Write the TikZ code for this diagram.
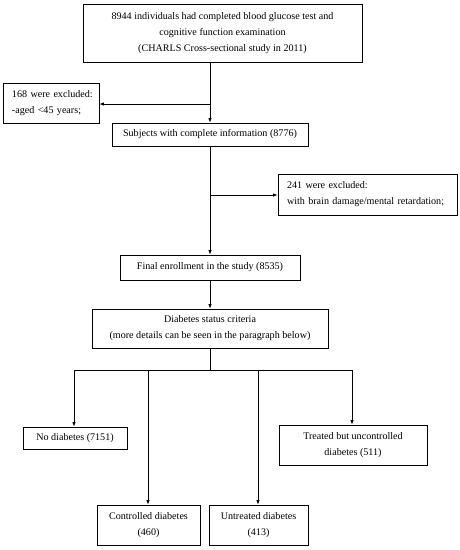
\documentclass[tikz,border=0pt]{standalone}
\usepackage{fontspec}
\setmainfont{Liberation Serif}
\usetikzlibrary{arrows.meta}
\tikzset{
  box/.style={draw, line width=0.8pt, inner sep=0pt, align=center,
    font=\fontsize{10.1}{16}\selectfont},
  lbox/.style={box, align=left},
  arr/.style={line width=0.8pt, -{Latex[length=4.5pt,width=3.5pt]}},
  ln/.style={line width=0.8pt},
}
\begin{document}
\begin{tikzpicture}[x=1pt,y=-1pt]
\useasboundingbox (0,0) rectangle (459,550);
\node[box, minimum width=279pt, minimum height=58pt] (b1) at (222.5,33)
  {8944 individuals had completed blood glucose test and\\cognitive function examination\\(CHARLS Cross-sectional study in 2011)};
\node[lbox, minimum width=96pt, minimum height=40pt, text width=78pt] (ex1) at (51,103)
  {\mbox{168 were excluded:}\\\mbox{-aged <45 years;}};
\node[box, minimum width=196pt, minimum height=23pt] (b2) at (210,134.5)
  {Subjects with complete information (8776)};
\node[lbox, minimum width=179pt, minimum height=41pt, text width=161pt] (ex2) at (367.5,194.5)
  {\mbox{241 were excluded:}\\\mbox{with brain damage/mental retardation;}};
\node[box, minimum width=180pt, minimum height=25pt] (b3) at (210,267.5)
  {Final enrollment in the study (8535)};
\node[box, minimum width=236pt, minimum height=39pt] (b4) at (210,328.5)
  {Diabetes status criteria\\(more details can be seen in the paragraph below)};
\node[box, minimum width=104pt, minimum height=22pt] (nd) at (75,438)
  {No diabetes (7151)};
\node[box, minimum width=148pt, minimum height=40pt] (tu) at (353,445)
  {Treated but uncontrolled\\diabetes (511)};
\node[box, minimum width=103pt, minimum height=40pt] (cd) at (148.5,525)
  {Controlled diabetes\\(460)};
\node[box, minimum width=99pt, minimum height=40pt] (ud) at (258.5,525)
  {Untreated diabetes\\(413)};
\coordinate (j1) at (210,104);
\coordinate (j2) at (210,195);
\coordinate (j3) at (210,370);
\coordinate (d1) at (74,370);
\coordinate (d2) at (148,370);
\coordinate (d3) at (258,370);
\coordinate (d4) at (352,370);
\draw[arr] (b1.south -| b2.north) -- (b2.north);
\draw[arr] (j1) -- (j1 -| ex1.east);
\draw[arr] (b2.south) -- (b3.north);
\draw[arr] (j2) -- (j2 -| ex2.west);
\draw[arr] (b3.south) -- (b4.north);
\draw[ln] (b4.south) -- (j3);
\draw[ln] (d1) -- (d4);
\draw[arr] (d1) -- (d1 |- nd.north);
\draw[arr] (d2) -- (d2 |- cd.north);
\draw[arr] (d3) -- (d3 |- ud.north);
\draw[arr] (d4) -- (d4 |- tu.north);
\end{tikzpicture}
\end{document}
